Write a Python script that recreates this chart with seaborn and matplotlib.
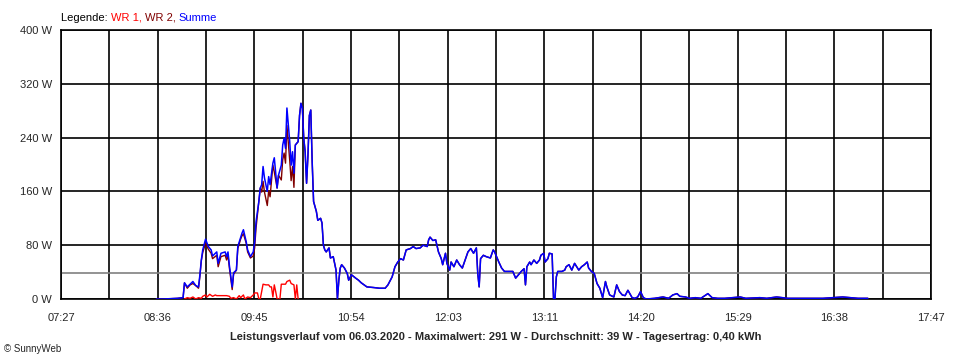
import numpy as np
import pandas as pd
import matplotlib
matplotlib.use("Agg")
import matplotlib.pyplot as plt
import seaborn as sns

# time axis: minutes after midnight (07:27 = 447, 17:47 = 1067)
x_start = 447
x_end = 1067
tick_labels = ["07:27", "08:36", "09:45", "10:54", "12:03",
               "13:11", "14:20", "15:29", "16:38", "17:47"]
y_ticks = [0, 80, 160, 240, 320, 400]
average_w = 39

# Summe (blue)
summe_t = [515, 520, 530, 534, 535, 537, 539, 541, 543, 545, 546, 547, 548, 550, 552,
           554, 555, 558, 559, 561, 564, 565, 566, 567, 569, 570, 572, 573, 575, 576,
           577, 579, 580, 582, 584, 585, 586, 588, 589, 590, 591, 592, 594, 595, 596,
           598, 599, 601, 602, 604, 605, 606, 607, 608, 610, 611, 612, 613, 614, 616,
           617, 618, 619, 620, 621, 622, 623, 624, 625, 626, 627, 629, 630, 632, 633,
           634, 635, 636, 638, 639, 641, 643, 644, 645, 646, 647, 649, 651, 652, 654,
           657, 659, 661, 665, 670, 674, 678, 680, 683, 685, 687, 689, 691, 693, 696,
           698, 700, 703, 705, 708, 709, 710, 712, 714, 716, 718, 719, 721, 722, 724,
           725, 727, 729, 731, 733, 735, 737, 739, 741, 743, 744, 745, 746, 748, 750,
           753, 755, 756, 759, 761, 763, 767, 769, 771, 773, 775, 777, 778, 779, 781,
           782, 784, 786, 788, 789, 791, 792, 794, 795, 797, 798, 799, 800, 801, 804,
           806, 807, 809, 811, 813, 816, 818, 820, 822, 823, 825, 827, 829, 831, 833,
           835, 836, 838, 841, 843, 845, 847, 849, 851, 854, 856, 858, 860, 862, 864,
           870, 876, 880, 883, 886, 888, 892, 895, 899, 903, 908, 911, 915, 920, 931,
           935, 945, 950, 957, 965, 974, 990, 1004, 1015, 1022]
summe_w = [0, 0, 1, 2, 24, 18, 22, 26, 20, 18, 36, 58, 73, 89, 78,
           73, 64, 70, 53, 68, 70, 63, 70, 50, 18, 39, 43, 78, 91, 98,
           103, 85, 73, 63, 70, 85, 115, 145, 165, 170, 197, 180, 160, 182, 170,
           202, 210, 165, 184, 199, 229, 239, 224, 284, 234, 199, 219, 187, 229, 234,
           273, 291, 284, 239, 219, 172, 214, 273, 281, 204, 145, 130, 117, 120, 113,
           80, 73, 70, 76, 61, 63, 43, 0, 28, 46, 51, 46, 38, 28, 36,
           31, 28, 24, 18, 17, 16, 16, 21, 33, 48, 55, 60, 58, 73, 75,
           78, 75, 76, 80, 78, 88, 92, 87, 88, 70, 60, 51, 68, 53, 43,
           55, 48, 58, 51, 46, 58, 70, 75, 68, 76, 38, 18, 60, 65, 63,
           61, 73, 70, 55, 46, 41, 41, 41, 31, 36, 41, 45, 21, 48, 55,
           51, 58, 53, 58, 65, 68, 55, 60, 68, 67, 0, 0, 33, 41, 41,
           43, 48, 51, 43, 53, 43, 48, 51, 55, 46, 41, 38, 23, 16, 2,
           26, 18, 6, 3, 21, 11, 6, 5, 13, 2, 1, 3, 11, 2, 0,
           1, 3, 1, 6, 8, 4, 3, 1, 2, 1, 8, 2, 1, 1, 3,
           1, 2, 1, 3, 1, 1, 1, 3, 1, 1]

# WR 2 (dark red), same time grid as Summe
wr2_w = [0, 0, 1, 2, 24, 16, 21, 23, 20, 16, 34, 57, 69, 83, 74,
         68, 60, 65, 48, 63, 65, 58, 65, 46, 14, 37, 43, 75, 89, 94,
         97, 83, 70, 61, 64, 76, 106, 145, 165, 159, 175, 159, 139, 161, 152,
         199, 189, 165, 184, 177, 207, 217, 202, 258, 206, 176, 197, 166, 229, 234,
         273, 291, 284, 239, 219, 172, 214, 273, 281, 204, 145, 130, 117, 120, 113,
         80, 73, 70, 76, 61, 63, 43, 0, 28, 46, 51, 46, 38, 28, 36,
         31, 28, 24, 18, 17, 16, 16, 21, 33, 48, 55, 60, 58, 73, 75,
         78, 75, 76, 80, 78, 88, 92, 87, 88, 70, 60, 51, 68, 53, 43,
         55, 48, 58, 51, 46, 58, 70, 75, 68, 76, 38, 18, 60, 65, 63,
         61, 73, 70, 55, 46, 41, 41, 41, 31, 36, 41, 45, 21, 48, 55,
         51, 58, 53, 58, 65, 68, 55, 60, 68, 67, 0, 0, 33, 41, 41,
         43, 48, 51, 43, 53, 43, 48, 51, 55, 46, 41, 38, 23, 16, 2,
         26, 18, 6, 3, 21, 11, 6, 5, 13, 2, 1, 3, 11, 2, 0,
         1, 3, 1, 6, 8, 4, 3, 1, 2, 1, 8, 2, 1, 1, 3,
         1, 2, 1, 3, 1, 1, 1, 3, 1, 1]

# WR 1 (red)
wr1_t = [535, 537, 539, 541, 543, 545, 547, 548, 550, 551, 553, 555, 557, 558, 562,
         565, 567, 568, 570, 572, 574, 575, 577, 578, 580, 582, 584, 585, 587, 588,
         589, 591, 593, 595, 596, 597, 598, 599, 600, 601, 603, 604, 607, 608, 610,
         611, 613, 614, 615, 616]
wr1_w = [0, 2, 1, 3, 0, 2, 1, 4, 6, 3, 7, 4, 6, 5, 5,
         5, 4, 1, 2, 0, 5, 2, 6, 0, 3, 2, 6, 9, 9, 0,
         0, 22, 21, 21, 18, 18, 3, 21, 11, 0, 0, 22, 22, 26, 28,
         23, 21, 0, 21, 0]

df_sum = pd.DataFrame({"t": summe_t, "summe": summe_w, "wr2": wr2_w})
df_wr1 = pd.DataFrame({"t": wr1_t, "wr1": wr1_w})

sns.set_style("white")
plt.rcParams["font.family"] = ["Liberation Sans", "DejaVu Sans"]

fig = plt.figure(figsize=(9.6, 3.6), dpi=100)
ax = fig.add_axes([61 / 960, 61 / 360, 870 / 960, 269 / 360])

ax.axhline(average_w, color="#808080", linewidth=1.2, zorder=1)
sns.lineplot(data=df_wr1, x="t", y="wr1", color="#ff0000", linewidth=1.0, ax=ax, zorder=3)
sns.lineplot(data=df_sum, x="t", y="wr2", color="#800000", linewidth=1.0, ax=ax, zorder=4)
sns.lineplot(data=df_sum, x="t", y="summe", color="#0000ff", linewidth=1.1, ax=ax, zorder=5)

# grid every half label step
grid_x = np.linspace(x_start, x_end, 19)
ax.set_xlim(x_start, x_end)
ax.set_ylim(0, 400)
ax.set_xticks(grid_x)
ax.set_xticklabels([tick_labels[i // 2] if i % 2 == 0 else "" for i in range(19)])
ax.set_yticks(y_ticks)
ax.set_yticklabels([f"{v} W" for v in y_ticks])
ax.grid(True, color="black", linewidth=1.2, zorder=0)
ax.set_axisbelow(True)
ax.tick_params(axis="x", length=4, width=1, color="black", pad=6, labelsize=8)
ax.tick_params(axis="y", length=4.5, width=1, color="black", pad=2, labelsize=8)
for s in ax.spines.values():
    s.set_color("black")
    s.set_linewidth(1.2)
ax.set_xlabel("")
ax.set_ylabel("")

# legend line at top, pieces placed one after another
parts = [("Legende: ", "black"), ("WR 1, ", "#ff0000"), ("WR 2, ", "#800000"), ("Summe", "#0000ff")]
fig.canvas.draw()
renderer = fig.canvas.get_renderer()
x_px = 61
for txt, col in parts:
    t = fig.text(x_px / 960, 1 - 21 / 360, txt, fontsize=8, color=col, va="baseline", ha="left")
    x_px += t.get_window_extent(renderer).width

fig.text(496 / 960, 1 - 337 / 360,
         "Leistungsverlauf vom 06.03.2020 - Maximalwert: 291 W - Durchschnitt: 39 W - Tagesertrag: 0,40 kWh",
         ha="center", va="center", fontsize=8, fontweight="bold")
fig.text(4 / 960, 1 - 349 / 360, "\u00a9 SunnyWeb", ha="left", va="center", fontsize=7)

fig.savefig("out.png", dpi=100)
